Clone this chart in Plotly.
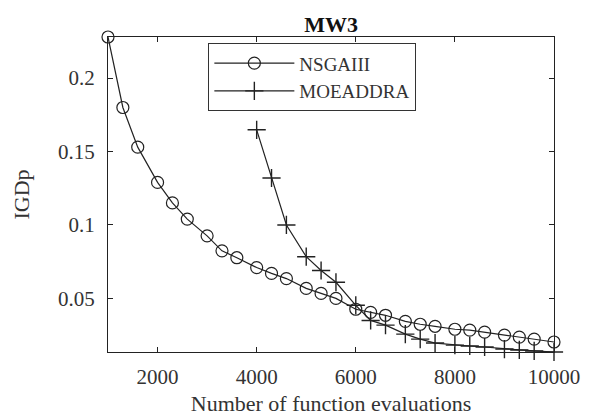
import plotly.graph_objects as go

evals = [1000, 1300, 1600, 2000, 2300, 2600, 3000, 3300, 3600, 4000, 4300, 4600, 5000, 5300,
         5600, 6000, 6300, 6600, 7000, 7300, 7600, 8000, 8300, 8600, 9000, 9300, 9600, 10000]
nsgaiii = [0.228, 0.180, 0.153, 0.129, 0.115, 0.104, 0.0926, 0.0824, 0.0777, 0.071, 0.067, 0.0635,
           0.0568, 0.0534, 0.050, 0.0426, 0.0405, 0.0385, 0.0344, 0.0324, 0.031, 0.029, 0.0284,
           0.027, 0.025, 0.0236, 0.0223, 0.0203]
moea_evals = [4000, 4300, 4600, 5000, 5300, 5600, 6000, 6300, 6600, 7000, 7300, 7600, 8000,
              8300, 8600, 9000, 9300, 9600, 10000]
moeaddra = [0.1648, 0.132, 0.100, 0.0784, 0.069, 0.061, 0.0453, 0.035, 0.0318, 0.0257, 0.0223,
            0.0196, 0.0182, 0.0176, 0.0169, 0.0155, 0.0149, 0.0142, 0.0135]
xticks = [2000, 4000, 6000, 8000, 10000]
yticks = [0.05, 0.1, 0.15, 0.2]
yticklabels = ["0.05", "0.1", "0.15", "0.2"]

FONT = "Liberation Serif"
INK = "#222222"
TXT = "#333333"

fig = go.Figure()
fig.add_trace(go.Scatter(
    x=evals, y=nsgaiii, name="NSGAIII", mode="lines+markers",
    line=dict(color=INK, width=1.2),
    marker=dict(symbol="circle-open", size=12, color=INK, line=dict(width=1.2, color=INK)),
    cliponaxis=False,
))
fig.add_trace(go.Scatter(
    x=moea_evals, y=moeaddra, name="MOEADDRA", mode="lines+markers",
    line=dict(color=INK, width=1.2),
    marker=dict(symbol="cross-thin-open", size=13, color=INK, line=dict(width=1.4, color=INK)),
    cliponaxis=False,
))

fig.update_layout(
    width=589, height=417,
    margin=dict(l=108, r=35, t=37, b=65),
    paper_bgcolor="white", plot_bgcolor="white",
    font=dict(family=FONT, size=21, color=TXT),
    title=dict(text="<b>MW3</b>", x=0.562, xanchor="center", y=1 - 24 / 417, yanchor="middle",
               yref="container", font=dict(family=FONT, size=22, color="#111111")),
    showlegend=True,
    legend=dict(
        x=0.225, y=0.98, xanchor="left", yanchor="top",
        bgcolor="white", bordercolor="#333333", borderwidth=1,
        font=dict(family=FONT, size=19, color=TXT),
        itemwidth=80, tracegroupgap=0,
    ),
    xaxis=dict(
        range=[1000, 10000], tickvals=xticks, ticktext=[str(v) for v in xticks],
        ticks="inside", ticklen=5, tickcolor=INK, showline=True, linecolor=INK, linewidth=1.2,
        mirror="ticks", showgrid=False, zeroline=False, ticklabelstandoff=6, automargin=False,
        title=dict(text="Number of function evaluations", standoff=7,
                   font=dict(family=FONT, size=22, color=TXT)),
        tickfont=dict(family=FONT, size=21, color=TXT),
    ),
    yaxis=dict(
        range=[0.0135, 0.228], tickvals=yticks, ticktext=yticklabels,
        ticks="inside", ticklen=5, tickcolor=INK, showline=True, linecolor=INK, linewidth=1.2,
        mirror="ticks", showgrid=False, zeroline=False, ticklabelstandoff=8, automargin=False,
        title=dict(text="IGDp", standoff=22, font=dict(family=FONT, size=22, color=TXT)),
        tickfont=dict(family=FONT, size=21, color=TXT),
    ),
)

fig.write_html("out.html")
